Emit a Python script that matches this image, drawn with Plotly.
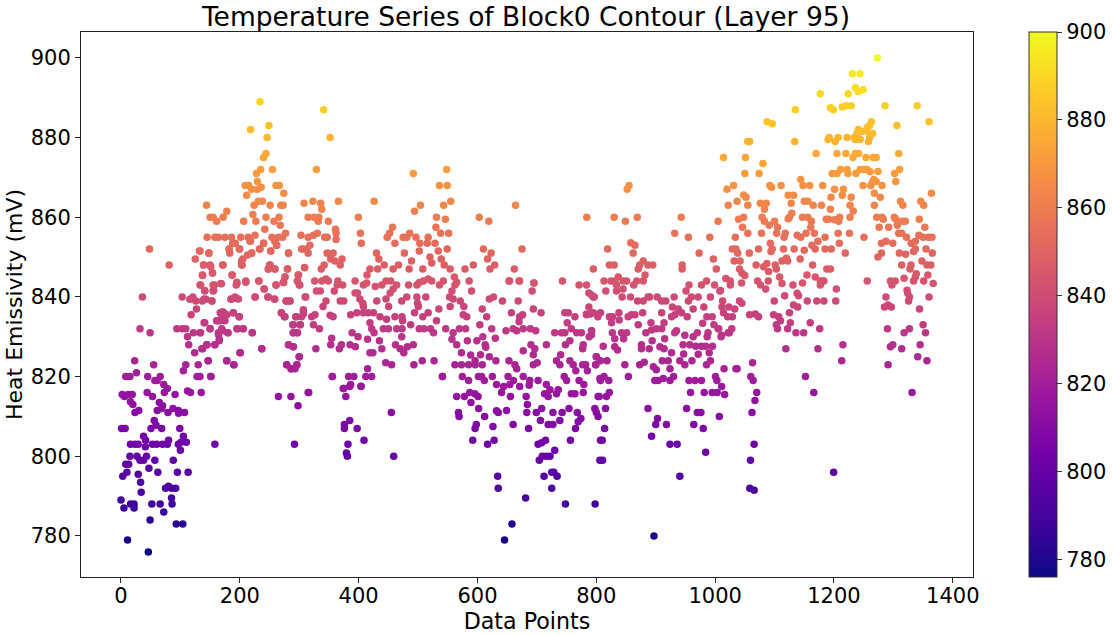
import plotly.graph_objects as go

# (data point index, heat emissivity in mV), grouped by x region
pts_start = [(48,852),(81,848),(36,840),(32,832),(49,831),(23,824),(55,823),(26,821),(8,820),(15,820),(45,820),(66,820),(61,819),(57,819),(72,818),(78,817),(73,816),(44,816),(53,815),(2,815.5),(6,815),(12,815.5),(19,815.5),(16,813.7),(20,813),(64.5,813.5),(70,812.7),(91,815.5),(61,811.5),(68.5,812),(79,811),(87.5,812),(96.5,811.5),(97,810.8),(107,811),(23.5,811),(30,811.5),(56,809),(1,807),(7,807),(50.5,807),(59,807.8),(68.5,807),(99,807),(38,805),(41.5,804),(16,803),(23.5,803),(29,803),(41,802.4),(53,803),(60,803),(70,803),(78,803),(80,804),(96.5,803),(101,803.5),(105,805),(110,803.5),(100,801.5),(158,803),(292,803),(15,800),(27,800),(32,799),(38,799),(43,800),(57,799),(88,799),(13,798),(8,798),(10,796),(3,795),(29,795.5),(47,797),(62,796),(95,796),(113,796),(33,793.5),(34,791),(75,792),(80,792.5),(85,792),(92,792),(0,789),(5,787),(16,788),(22,788),(22,787),(52,788),(66,788),(85,789.5),(86,788),(72,786),(49,784),(93,783),(104,783),(11,779),(46,776)]
pts_rise = [(132,851.5),(148,851),(125,849.5),(139,848),(150,848),(172,848),(137,845.5),(154,846),(134,843),(141,841.6),(156,841.6),(157,843),(169,843.3),(103,840),(116,839.4),(121,840),(126,839),(137,839),(143,839.4),(153,839),(127,837),(118,835.5),(141,833.5),(162,834),(172,836),(178,835.5),(189,836),(199,835),(94,832),(103,832),(109,832),(112,830),(122,831),(133,831),(150,832),(164,830.6),(171,831.5),(180,831),(196,832),(206,832),(221,831),(114,828),(124,826),(136,827),(145,828),(158,828),(165.5,829),(201,826),(237,827),(109,823),(105,821.5),(130,823),(147,824),(178,824),(190,823),(128,820),(151,820),(112,816.4),(117,816),(135,816),(265,815),(286,815),(298,812.7),(315,816),(188,853.5),(200,852),(218,854),(182,852),(183,851),(203,849),(204,848),(220,851),(234,852),(240,853.5),(252,851.5),(262,853),(282,851),(306,852),(187,845.5),(195,843.4),(210,843.7),(232,844),(251,848),(248,847),(259,847),(280.5,847),(276,845),(274,843.6),(261,843),(241,842),(298,845.5),(297,844),(301,843),(309,847.3),(194,839.6),(185,839.4),(226,840),(247,840),(259,839.4),(278,839),(284.5,839),(310,840),(270,836),(275,835),(294,835),(307,836.5),(304,835),(289,833),(302,833),(290,831),(297,831),(282,828),(290,827.5),(300,825),(279,823),(286,822),(293,822),(296,823),(167,834),(171,836.3),(175,834)]
pts_peak = [(234,889),(341,887),(218,882),(249,883),(246,880),(352,880),(244,876),(240,875),(255,872),(235,872),(228,871),(329,872),(492,871),(548,872),(229.5,869),(209,868),(215,868),(220,867),(236,867.5),(229.5,867),(261,868),(266.5,868),(274,866),(211.5,865.5),(536,868),(549,868),(144,863),(178,861.5),(172,860),(150,860),(155,860),(161,859),(206.5,859),(222,860.7),(227,859),(224,863),(231,864),(238,864),(251,863),(269,863),(273,863),(244,860),(257.5,859),(266,860),(268,858),(242,857),(308,863.5),(323,864),(336,863.5),(338,862),(366,864),(426,864),(504,863),(494,861.5),(543,863),(555,864),(315,860),(325,860),(333,860),(332,859),(349,859),(399.5,860),(531,860),(546,859.5),(603,860),(619,859),(361,857),(362,856),(330.5,856),(530,857.5),(538,856),(551.5,856),(403,856),(457,857.5),(452,856),(486,856)]
pts_mid_a = [(145,855),(158,855),(164,855),(175,855),(186,855),(201.5,855),(214,855),(225.5,855.5),(254,855),(265,855),(272,855),(277,856),(303,855.5),(315,855),(324,855.5),(343,855),(347,855),(448,855),(475,855),(481,855),(496.5,855),(517,855),(362,854.4),(189,853.5),(192.5,853.5),(217,854),(240,853.5),(259,854),(404.5,853.5),(461,853.5),(503,853.5),(515.5,853.5),(528.5,853.5),(199,852),(182,852),(262,853),(233,852),(304,852),(312.5,852),(318,853),(549,852),(610,852),(502,851.5),(534,851.5),(477,851),(148,851),(252,851.5),(282,851),(315,851),(347,851),(357,851),(430,851),(623,851),(133,851.5),(220,851),(213,850.5),(520,850),(434,849.5),(372,849.5),(353,849.5),(360,849),(539,849.5),(617,849.5),(205,849.5),(139,848),(151,847.6),(171,848),(203,848),(250,848),(342,848),(369,848),(443,848),(467,848),(489,849),(523,848.5),(544,848),(593,848),(629,848),(248,847),(259,847),(280,847),(309,847.4),(337,847),(419,847),(432,847),(458,847),(485,847),(508,847),(554,847),(579,847),(621,847),(154,846),(187,845.5),(414,845.5),(299,845.5),(276,845),(137.5,845.4),(561,845),(232,844),(210,844),(195,843.7),(297,844),(326,844),(338,844),(345,844.5),(349,844),(394,844),(446,844),(454,844),(509,844),(517,844.5),(523,844),(542.5,844),(586,844),(565,843.7),(155,843),(168,843.4),(194,843),(273,843.6),(261,843),(300,843),(365,844),(373,843),(364,843),(408,843),(413.5,843.5),(428,842.6),(439,843),(464,843),(484,843),(498,843),(502,843.6),(536,843),(562,843),(133,843),(241,842),(141,841.5),(155,841.5),(329,841.5),(335.5,841.5),(359,841.5),(394,841),(398,841),(453,841),(458,842),(557,841.5),(590,841.5)]
pts_mid_b = [(225.5,840),(248,840),(258,839.5),(186,839.5),(192,840),(197.5,839.5),(140,839.5),(153,839),(311,840),(278,839),(284.5,839),(345,839),(369,839),(375,839),(402,839.5),(407,838.4),(430.5,839),(446,839.5),(472.5,839),(481,840),(498,840),(513,840),(553,840),(559,839.5),(571,839),(620,839.5),(627,840),(499,838.4),(340,837.6),(450.5,837.6),(500.5,837.6),(535,837),(554,837.6),(577,837.6),(608,837),(167,836),(173,836),(189,836),(270,836),(276,835),(307,836.8),(307,835.7),(295,835),(326.5,835.5),(321,835),(352,835.4),(357,835),(386.5,835.5),(397,836),(408,837.6),(408,836),(416,836),(425,836),(436,835),(447,834.4),(461,835),(473,835),(474,834),(494,836),(508,835),(517,836),(576,835.5),(582,835),(615.5,835),(161,834),(169.5,834.7),(199,835),(140,833.5),(290,833),(301,833),(419,833.5),(531,834),(604,833),(487.5,833),(324,833),(150,832),(195,832),(205,832),(134,831),(164,831),(169.5,832),(180,831),(221,831),(290,831),(297,831),(334,832),(389,831),(422,832),(426,831),(441.5,832),(450,832),(464,832),(473,832),(502,832),(510,832),(521,832),(526,831),(546.5,832),(559,831),(569.5,832),(580,832),(624,832),(165.5,829.4),(354.5,829.6),(399,830),(415,829.4),(435,829),(472.5,830),(557,829.4),(583,829),(599,829),(609,830),(630,829.6),(158,828),(137.5,827),(144,828),(200,826),(237,827),(282,828),(290,827.5),(328,827),(353,828),(367.5,827),(371,828),(385.5,828),(394.5,827.5),(439,827),(462,828),(470,827),(482,827.5),(492,828),(565,828),(613,828),(614,827.4),(178,824),(190,823),(146.5,824),(300,825),(279,823),(287,822),(296,823),(415,822),(424,826),(419,826),(445.5,823.5),(455.5,823),(493,823),(507,824),(527,824),(476,826),(573,826),(588.5,825.4),(605,825.5),(620,825),(631,824),(562,823),(573,823),(585,823),(596,823),(608,823),(596,824),(133,820),(151.5,820),(356,820),(383,820),(392,820),(412,820),(422,820),(541,820),(574.5,820),(585,819),(601.5,820),(607,820),(611.5,819),(625,820),(632,818),(375,817),(386.5,818),(404,817.6)]
pts_valley = [(355.4,820),(316,816),(374,817),(385,817.5),(378.4,815),(404,817.5),(541,820),(455,811),(385,809),(376,808),(376,807),(397.5,807),(409,804),(382,803),(379.5,800.8),(381,800),(459,800),(565,815),(578,815),(587,816),(595.5,815.7),(601,815),(589,813.5),(602,812),(568,811),(569,810),(612,810),(598,808),(596,807),(626,807.5),(592,804),(617,803),(628,804),(635,811),(632,811.4),(649,811.5),(660,808),(686,807),(655.5,815),(682,815),(684,813),(683,811),(699,811),(708,812),(706,809),(719,808),(727,808),(738.6,809),(727,811),(742.5,811),(754,812),(768,811),(774,809.5),(769.5,808.7),(765,807),(756.5,804),(702,803),(708,803.4),(714.5,804),(730,801.5),(709,800),(716,800),(722,800),(704,799),(725,796),(728.5,796),(712,795),(734,795),(634,795),(635,792),(725,792),(681,789.5),(748,788),(798,788),(658,783),(645.5,779),(797.5,812),(800,811),(803,810),(807,804),(806,799),(803,815),(778,816),(764,815.7),(758,815.7),(733,815.7),(736,816.7),(719,815),(713,815.7),(716,818),(722,816.7)]
pts_valley_up = [(743,844),(771,843),(783.5,843),(695,843.5),(653,844),(670,844),(692,841.5),(668.5,839),(642,839),(787.5,841),(795,840),(694,837),(707,836),(747,836),(753,836),(764,835),(783.5,835.7),(795,836),(657,836),(671,835),(676,835.5),(670,833.8),(751,833.5),(648,831.5),(660,832),(666,831.5),(677,832),(689,832),(698,831.5),(730,831),(741.5,831),(747,831),(758,832),(767,831),(775,831),(792,831.5),(788,830),(755.5,829),(748,828),(778,828),(716,828),(690,828),(696.5,827),(777,827),(677,826.5),(694,825.5),(740,825.5),(800,825),(733,824),(755.5,824),(653,824),(663,823),(666,822),(700.5,823.5),(694,823),(738.6,823),(761,823),(777,823),(782,823),(799,823),(785,821.5),(765.5,821.5),(651.5,820),(677,820),(702,819),(746,820),(750,819),(771,819),(779,818),(806,819.5),(660.5,819),(654.5,818),(671,817.5),(687,817.8),(688,819),(644,817.5),(640.5,816)]
pts_right_a = [(664,863),(784,860),(830,860),(849,859),(869,860),(675,852),(662,847),(819,852),(795,847),(822,848),(830,848),(858,853.6),(865,853),(862,851),(879,849),(887,848),(895,848),(873,848),(870.5,847),(852,867),(855,868),(943,860),(932,856),(955,855),(991,855),(1005,859),(973,851),(997,849.5),(944.5,848),(944.5,847),(1002,847),(882,845.5),(654,844),(671,844),(695,843.5),(813,844),(824.5,844),(831,844),(837,845),(845,844),(851,844),(868,844),(879,844),(816,841.5),(834,841.5),(845,842),(834,843),(863,843),(956,843),(977,843),(985.5,844),(999,843),(792,840.5),(796.5,840),(843.5,840),(857.6,840),(869.4,839),(879,839),(887,840),(890,840),(902.5,840),(910,839),(917,839),(931,840),(951,841.5),(955,839),(960,840),(971.5,840),(992,840),(1008,841.5),(787.5,837.5),(783.5,835.5),(790,835.7),(802.6,835),(807,836),(822,835),(827,835),(838,836),(838.5,834.2),(825.6,833.5),(853.6,835),(859,835.5),(865,835.5),(878,836),(910,836),(928,837.5),(926.6,835),(932,835.5),(938,837),(943.4,836),(953,835),(963,837),(981,837.5),(986,835),(995,835),(870.5,833),(892,833.5),(914,833.5),(979,833.4),(998,833),(1005,832),(792,831.5),(792,830.5),(827,831),(831,829.5),(842.4,831),(851,831),(846,829.5),(883.4,831),(893,831.7),(901,832),(910,832),(935,831.5),(932,831),(949,830.4),(963,830),(970,831),(988,831),(986.6,830),(1011,830.4),(1022,831)]
pts_right_b = [(811.6,827.6),(831,827.5),(835.7,826.7),(876,828),(876,827),(889,827),(894,829),(907,827.5),(914,827),(915,829.5),(926.6,826),(946,828),(947,825.7),(957.4,828),(967.5,827.6),(977,827.6),(984,827.6),(995.6,827.6),(990,826),(971.5,825.6),(800,825),(807,824),(818,824),(799,823),(848,823),(873,823),(880.6,823.6),(896,822.5),(901,821.7),(911,824),(921,824),(924,822),(940.6,824),(949,823),(961,824),(985.5,823),(992,824),(1015,822),(1035,822),(1063,823.5),(854,820),(807,819),(813,820),(821,819),(898.5,819),(904,819),(912.6,819.5),(924,819),(930,820),(956,819),(966,819),(977,819),(1000.6,820),(1003,819),(1060,820),(1064,819),(805,815),(817,815),(822,816),(958.6,816),(981.6,816),(995,816),(1003.4,816),(1011,817.5),(1016,815.5),(1070,816),(1067,814),(815.5,812),(887,812),(952,812),(970,811),(976,811),(1062,811),(1007,810),(903,809.5),(900,808),(918,808),(964,808),(980,807),(814,807),(810,804),(893,805),(924,803),(936,803),(984,801),(1065.6,803),(1059.5,799),(810.5,799),(940.6,795),(1058.4,792),(1065.7,791.5),(897,780)]
pts_end_a = [(1014,875),(1055,879),(1058,879),(1051,875),(1080.5,873.5),(1050,871),(1074,871),(1031,868),(1020,867),(1048,865.6),(1052,865),(1092,868),(1095,867.5),(1111,868),(1134,879),(1170,876),(1144,869.5),(1148,868),(1159,868),(1181,868),(1201,867),(1216,867),(1214,865.5),(1195,865),(1229,865),(1123,865.5),(1132,865.5),(1037,864),(1022,863),(1055,863),(1076,863.5),(1086,863.5),(1083,862),(1128,863.5),(1150,864),(1156,864),(1165,863),(1179,863),(1194,862),(1227,863),(1232.5,861.6),(1268,863),(1278,865),(1312,864),(1316,863),(1346,864),(1351,863),(1364,866),(1039.5,859.5),(1048,860),(1079,860),(1083,859),(1100,859),(1091,858),(1105,857.5),(1129,861),(1125,860),(1123,859.6),(1147,860),(1156,860),(1162,859),(1161,857.5),(1187,859.5),(1191,859.5),(1201,859.4),(1209.5,860),(1208,859),(1227,860),(1272,860),(1281,860),(1283,859.5),(1301.5,860),(1304,859.5),(1315,859),(1320,859),(1343.6,859.5),(1046,857.5),(1034,855),(1055,856),(1078,856),(1103.5,856),(1118,856),(1116,855),(1138,855.5),(1144,855),(1153,856),(1167,856),(1185,855),(1207,856),(1226,856),(1250.5,855),(1276,857.5),(1292,857.5),(1306.6,858),(1353,857.5),(1309,856),(1314,856),(1322,855),(1343,855.5),(1350,855),(1359,855),(1365,855)]
pts_end_b = [(1093,853.5),(1073,852),(1057.5,851),(1029,852),(1035,852),(1038,851),(1096,852),(1094,851.4),(1115,852),(1133,852),(1150,851.7),(1163,853),(1168.5,852),(1173,854),(1185,852),(1195.5,852),(1209,853.5),(1219,851),(1280,853.5),(1287.5,854),(1299,853.5),(1330,853.5),(1337,854),(1337,852),(1355,852),(1310,851),(1320.6,850.7),(1334,851.4),(1365.5,851),(1280,851),(1274,850),(1032,849),(1042,849),(1069,848),(1081.6,847.6),(1087,848.4),(1101,848),(1103,847),(1112.5,849),(1122,849),(1120,849.7),(1143,849.5),(1164,848),(1188,847),(1194,847),(1314,848),(1329.6,848),(1328,847),(1348,849),(1356.5,848),(1363,848),(1041,847),(1045,846),(1050,845.4),(1090,846.4),(1108.5,845),(1154.5,845.5),(1168.5,845),(1181,844),(1338.5,845.8),(1337,845),(1334,844),(1318,844.7),(1358,845.5),(1018,844.6),(1025.5,844),(1071.5,844),(1089.5,844),(1076.5,843),(1112.5,843.4),(1131,843),(1147,843.5),(1177,844),(1183,844),(1177,843),(1256,844),(1295,844),(1303,844),(1297.6,843),(1351,844),(1367,843.4),(1025.5,843),(1044.6,843.5),(1085,842),(1204,842),(1009,841.6),(1323,841.7),(1324,841),(1117,840.3),(1138,840.9),(1140.5,840.3),(1287.5,840),(1327,840),(1360,840),(1012.6,839),(1041,839),(1045,838.4),(1099.5,839),(1155,839),(1171,839),(1183,839),(1203,839),(1325.6,839),(1132,838),(1139,837.5),(1285,837.5),(1291,838),(1296.5,837.5),(1344,837),(1011.5,837.5),(1023,837.5),(1033,837),(1014,836),(1058,835.5),(1067.6,835.7),(1073,835),(1098.4,835.5),(1107,835),(1125,836),(1021,835),(1029,835),(1110,834),(1126.5,833.5),(1103,833),(1105,832),(1122,832),(1160,833.5),(1176,832),(1136,831),(1149,831),(1290,832),(1350,833),(1327,832),(1318,831),(1354,831),(1028,832),(1024,831),(1006,832),(1010,830),(1215,828),(1119,827),(1173,827),(1299,828),(1295,827.5),(1314,827),(1345,828),(1341,825),(1356.5,824),(1213,824),(1291,823),(1037,822),(1152,820),(1166,816),(1331.4,816),(1199.4,796)]
pts_top = [(1273,900),(1231,896),(1244,896),(1236,892.5),(1241,891.5),(1249,892),(1224,891),(1177,891),(1286,888),(1340,888),(1199,887),(1214,887.7),(1220.5,888),(1229,888),(1194,887.5),(1135,887),(1087.5,884),(1096,883.5),(1360,884),(1306,883),(1263,884),(1260,883),(1241,882),(1239,881),(1236,879.5),(1247,881.5),(1256,882.5),(1190,879.5),(1207,880),(1192,880),(1202,879),(1222,880),(1234,880),(1239,881),(1244,879.5),(1255.5,881.6),(1265,881),(1260,880),(1258,879),(1205,876),(1220,876),(1232,875),(1236,876),(1241.5,876),(1254,875),(1266,875),(1271,875),(1309,876),(1197,871),(1205,871),(1211,872),(1222,872),(1223.5,871),(1237,871),(1244,872),(1250,872),(1255.5,872),(1261,871.4),(1274,871.5),(1302,871),(1310.5,872),(1267,869.5),(1271,869),(1264.5,868.7),(1262,868),(1249,868),(1281,868),(1304,869),(1268,866)]

groups = [pts_start, pts_rise, pts_peak, pts_mid_a, pts_mid_b, pts_valley, pts_valley_up,
          pts_right_a, pts_right_b, pts_end_a, pts_end_b, pts_top]
points = [p for g in groups for p in g]
data_x = [p[0] for p in points]
data_y = [p[1] for p in points]

color_ticks = [780, 800, 820, 840, 860, 880, 900]
x_ticks = [0, 200, 400, 600, 800, 1000, 1200, 1400]
y_ticks = [780, 800, 820, 840, 860, 880, 900]

FONT = "DejaVu Sans"
TICK = 21
fig = go.Figure(go.Scatter(
    x=data_x, y=data_y, mode="markers",
    marker=dict(size=7.5, color=data_y, colorscale="Plasma", cmin=776, cmax=900, line=dict(width=0),
                colorbar=dict(thickness=28, len=1, lenmode="fraction", y=0.5, yanchor="middle",
                              x=1.0628, xanchor="left", xpad=0, ypad=0, outlinewidth=1, outlinecolor="#333",
                              tickvals=color_ticks, ticks="outside", ticklen=5, tickcolor="#333",
                              tickfont=dict(family=FONT, size=TICK, color="black"))),
    showlegend=False, hoverinfo="skip"))
axis = dict(showgrid=False, zeroline=False, showline=True, mirror=True, linecolor="#222", linewidth=1,
            ticks="outside", ticklen=5, tickcolor="#222", automargin=False,
            tickfont=dict(family=FONT, size=TICK, color="black"))
fig.update_layout(
    width=1112, height=635, margin=dict(l=81, r=139, t=32, b=58, pad=0, autoexpand=False),
    paper_bgcolor="white", plot_bgcolor="white",
    title=dict(text="Temperature Series of Block0 Contour (Layer 95)", x=0.473, xanchor="center",
               y=0.973, yanchor="middle", font=dict(family=FONT, size=26.5, color="black")),
    xaxis=dict(range=[-67.3, 1434], tickvals=x_ticks, ticklabelstandoff=-5,
               title=dict(text="Data Points", font=dict(family=FONT, size=22.2, color="black"), standoff=2), **axis),
    yaxis=dict(range=[769.7, 906.5], tickvals=y_ticks,
               title=dict(text="Heat Emissivity (mV)", font=dict(family=FONT, size=22, color="black"), standoff=2), **axis),
)
fig.write_html("out.html", config={"displayModeBar": False}, post_script="document.body.style.margin='0';")
